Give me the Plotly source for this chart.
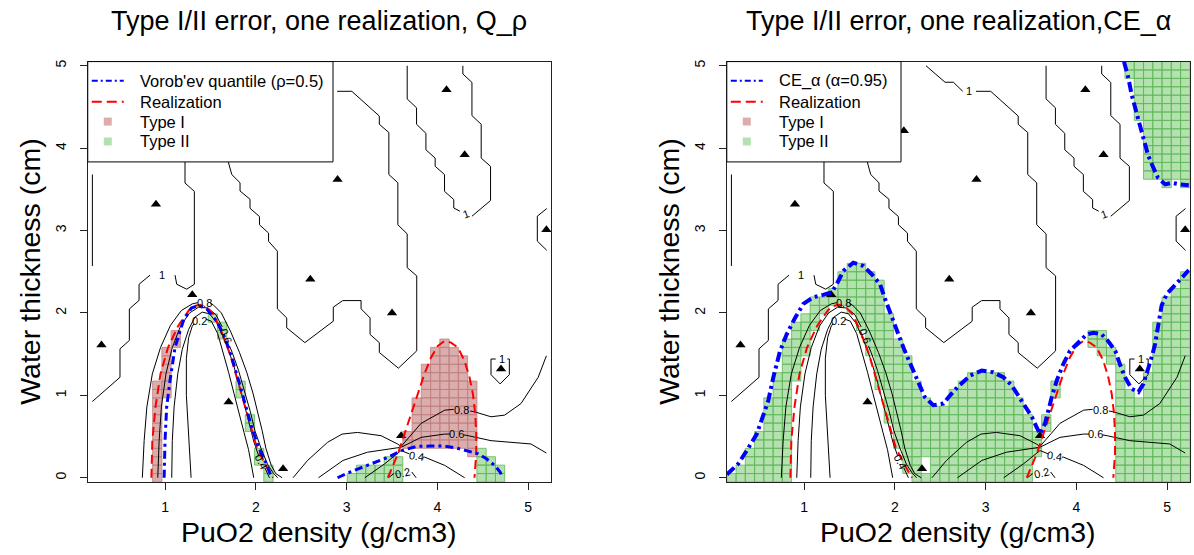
import plotly.graph_objects as go

# ---- computation grid (50 x 50 cells) ----
NX, NY = 50, 50
X0, X1 = 0.2, 5.2
Y0, Y1 = 0.0, 5.0
DX = (X1 - X0) / (NX - 1)
DY = (Y1 - Y0) / (NY - 1)

# ---- design points ----
TRI_X = [0.30, 0.90, 1.30, 1.70, 2.10, 2.30, 2.60, 2.90, 3.50, 3.60, 4.10, 4.30, 4.70, 5.20]
TRI_Y = [1.61, 3.32, 2.22, 0.92, 4.21, 0.11, 2.41, 3.62, 2.00, 0.51, 4.71, 3.92, 1.32, 3.01]

# ---- level-1 contour pieces ----
LEVEL1_SEGMENTS = [
    [(0.20, 2.57), (0.20, 3.68)],
    [(0.199, 0.925), (0.504, 1.219), (0.504, 1.565), (0.607, 1.666), (0.607, 2.049),
     (0.714, 2.152), (0.714, 2.348), (0.835, 2.459)],
    [(1.110, 2.459), (1.129, 2.348), (1.239, 2.288), (1.323, 2.348), (1.323, 3.476),
     (1.22, 3.577), (1.22, 5.0)],
    [(1.70, 5.0), (1.70, 3.82), (1.735, 3.68), (1.826, 3.58), (1.826, 3.48), (1.936, 3.38),
     (1.936, 3.27), (2.04, 3.17), (2.04, 3.07), (2.14, 2.97), (2.14, 2.87), (2.237, 2.75),
     (2.237, 2.05), (2.34, 1.94), (2.34, 1.82), (2.54, 1.64), (2.853, 1.90), (2.853, 2.07),
     (2.957, 2.15), (3.159, 2.15), (3.159, 2.05), (3.258, 1.94), (3.258, 1.74), (3.36, 1.64),
     (3.36, 1.52), (3.57, 1.33), (3.772, 1.54), (3.772, 2.45), (3.667, 2.55), (3.667, 2.96),
     (3.564, 3.07), (3.564, 3.58), (3.465, 3.68), (3.465, 4.19), (3.36, 4.29), (3.36, 4.39),
     (3.057, 4.69), (2.895, 4.69)],
    [(2.749, 4.69), (2.646, 4.80), (2.554, 4.80), (2.344, 5.0)],
    [(3.667, 5.0), (3.667, 4.597), (3.77, 4.49), (3.77, 4.29), (3.873, 4.18), (3.873, 3.98),
     (3.975, 3.88), (3.975, 3.78), (4.078, 3.68), (4.078, 3.476), (4.18, 3.376), (4.18, 3.274),
     (4.247, 3.235)],
    [(4.38, 3.174), (4.585, 3.364), (4.585, 3.779), (4.482, 3.879), (4.482, 4.29), (4.38, 4.395),
     (4.38, 4.798), (4.28, 4.90), (4.28, 5.0)],
    [(5.204, 3.267), (5.10, 3.174), (5.10, 2.872), (5.204, 2.76)],
    [(4.642, 1.441), (4.59, 1.441), (4.59, 1.251), (4.69, 1.139), (4.792, 1.251),
     (4.792, 1.441), (4.77, 1.441)],
]
LEVEL1_LABELS = [(0.97, 2.459, 0), (2.82, 4.69, 0), (4.31, 3.20, -20), (4.715, 1.441, 0)]

# ---- lower contours (0.2 .. 0.8) ----
LOW_SEGMENTS = [
    # 0.8
    [(0.75, 0.0), (0.77, 0.45), (0.80, 0.86), (0.86, 1.26), (0.95, 1.58), (1.06, 1.85),
     (1.18, 2.03), (1.30, 2.11), (1.36, 2.125)],
    [(1.50, 2.115), (1.53, 2.10), (1.62, 2.00), (1.72, 1.78), (1.82, 1.52), (1.90, 1.28),
     (1.97, 1.02), (2.02, 0.80), (2.07, 0.57), (2.11, 0.36), (2.17, 0.15), (2.22, 0.05), (2.29, 0.0)],
    [(2.41, 0.0), (2.57, 0.21), (2.79, 0.43), (2.95, 0.53), (3.12, 0.55), (3.38, 0.51),
     (3.56, 0.41), (3.60, 0.38), (3.82, 0.66), (4.08, 0.82), (4.18, 0.83)],
    [(4.36, 0.81), (4.41, 0.80), (4.59, 0.74), (4.74, 0.76), (4.92, 0.90), (5.11, 1.22), (5.20, 1.48)],
    # 0.6
    [(0.92, 0.0), (0.935, 0.45), (0.96, 0.86), (1.01, 1.26), (1.08, 1.58), (1.17, 1.84),
     (1.27, 2.00), (1.37, 2.07), (1.47, 2.06), (1.56, 1.98), (1.63, 1.83)],
    [(1.71, 1.60), (1.74, 1.52), (1.81, 1.30), (1.88, 1.04), (1.94, 0.80), (1.99, 0.57),
     (2.06, 0.35), (2.13, 0.16), (2.19, 0.06), (2.24, 0.0)],
    [(2.69, 0.0), (2.96, 0.21), (3.23, 0.31), (3.45, 0.35), (3.60, 0.37), (3.82, 0.49),
     (4.08, 0.53), (4.14, 0.53)],
    [(4.29, 0.52), (4.34, 0.51), (4.59, 0.45), (4.81, 0.43), (5.03, 0.41), (5.20, 0.30)],
    # 0.4
    [(1.074, 0.0), (1.08, 0.45), (1.10, 0.86), (1.14, 1.26), (1.19, 1.56), (1.26, 1.80),
     (1.33, 1.95), (1.41, 2.01), (1.49, 1.99), (1.57, 1.88), (1.66, 1.66), (1.74, 1.42),
     (1.81, 1.16), (1.87, 0.90), (1.93, 0.64), (1.98, 0.43), (2.03, 0.27)],
    [(2.10, 0.12), (2.13, 0.05), (2.15, 0.0)],
    [(3.20, 0.0), (3.42, 0.17), (3.60, 0.33), (3.69, 0.29)],
    [(3.84, 0.25), (3.86, 0.25), (4.08, 0.15), (4.30, 0.0)],
    # 0.2
    [(1.287, 0.0), (1.26, 0.5), (1.235, 1.0), (1.235, 1.45), (1.26, 1.70), (1.30, 1.84), (1.32, 1.87)],
    [(1.45, 1.925), (1.51, 1.90), (1.58, 1.75), (1.64, 1.52), (1.70, 1.28), (1.76, 1.02),
     (1.82, 0.78), (1.87, 0.55), (1.92, 0.34), (1.955, 0.15), (1.977, 0.0)],
    [(3.46, 0.0), (3.52, 0.05)],
    [(3.717, 0.07), (3.765, 0.0)],
]
LOW_LABELS = [
    ("0.8", 1.43, 2.12, 0), ("0.6", 1.67, 1.715, 68), ("0.4", 2.065, 0.195, 62), ("0.2", 1.385, 1.90, 0),
    ("0.8", 4.27, 0.82, 0), ("0.6", 4.215, 0.53, 0), ("0.4", 3.765, 0.265, 8), ("0.2", 3.615, 0.06, -12),
]

# ---- realization (excursion set boundary) ----
REAL_ARCH = [(0.85, 0.0), (0.86, 0.45), (0.895, 0.86), (0.95, 1.26), (1.033, 1.58), (1.143, 1.84),
             (1.262, 2.03), (1.31, 2.08), (1.385, 2.10), (1.459, 2.07), (1.53, 1.99), (1.62, 1.78),
             (1.716, 1.50), (1.79, 1.22), (1.862, 0.94), (1.936, 0.66), (2.01, 0.37), (2.10, 0.17),
             (2.19, 0.0)]
REAL_DOME = [(3.454, 0.0), (3.564, 0.29), (3.637, 0.53), (3.71, 0.78), (3.785, 1.02), (3.857, 1.26),
             (3.93, 1.46), (4.005, 1.60), (4.078, 1.66), (4.15, 1.64), (4.225, 1.58), (4.298, 1.42),
             (4.353, 1.22), (4.39, 1.02), (4.416, 0.78), (4.427, 0.53), (4.427, 0.29), (4.408, 0.0)]

# ---- Vorob'ev quantile boundary ----
VOROB_ARCH = [(0.99, 0.0), (1.0, 0.45), (1.018, 0.86), (1.055, 1.18), (1.11, 1.58), (1.20, 1.90),
              (1.29, 2.06), (1.367, 2.09), (1.459, 2.05), (1.57, 1.90), (1.66, 1.70), (1.735, 1.46),
              (1.81, 1.18), (1.88, 0.90), (1.955, 0.61), (2.03, 0.37), (2.10, 0.21), (2.175, 0.0)]
VOROB_LOW = [(2.90, 0.0), (3.04, 0.07), (3.18, 0.13), (3.33, 0.19), (3.46, 0.25), (3.607, 0.33),
             (3.77, 0.38), (3.918, 0.385), (4.065, 0.385), (4.21, 0.36), (4.36, 0.32), (4.45, 0.29),
             (4.54, 0.23), (4.63, 0.15), (4.69, 0.07), (4.72, 0.0)]

# ---- conservative estimate boundary ----
CE_MAIN = [(0.15, 0.04), (0.276, 0.17), (0.369, 0.33), (0.479, 0.53), (0.570, 0.82), (0.607, 0.94),
           (0.662, 1.22), (0.736, 1.54), (0.809, 1.74), (0.901, 1.94), (0.993, 2.11), (1.10, 2.19),
           (1.21, 2.22), (1.305, 2.25), (1.36, 2.35), (1.433, 2.51), (1.543, 2.61), (1.653, 2.57),
           (1.746, 2.47), (1.837, 2.35), (1.893, 2.17), (1.966, 1.94), (2.04, 1.74), (2.11, 1.54),
           (2.19, 1.34), (2.26, 1.14), (2.33, 0.98), (2.425, 0.88), (2.535, 0.90), (2.61, 1.00),
           (2.70, 1.11), (2.83, 1.24), (2.958, 1.30), (3.086, 1.28), (3.196, 1.22), (3.289, 1.12),
           (3.36, 1.00), (3.435, 0.86), (3.51, 0.74), (3.564, 0.61), (3.60, 0.53), (3.656, 0.66),
           (3.69, 0.82), (3.73, 0.98), (3.785, 1.18), (3.857, 1.38), (3.93, 1.54), (4.02, 1.64),
           (4.115, 1.74), (4.19, 1.76), (4.28, 1.74), (4.35, 1.66), (4.43, 1.54), (4.48, 1.38),
           (4.537, 1.22), (4.61, 1.08), (4.684, 1.04), (4.74, 1.14), (4.79, 1.30), (4.83, 1.46),
           (4.868, 1.62), (4.904, 1.86), (4.94, 2.09), (4.997, 2.23), (5.07, 2.31), (5.14, 2.40),
           (5.24, 2.52)]
CE_TOP = [(4.526, 5.05), (4.574, 4.85), (4.61, 4.65), (4.647, 4.48), (4.70, 4.28), (4.74, 4.12),
          (4.79, 3.92), (4.85, 3.76), (4.90, 3.64), (4.98, 3.56), (5.05, 3.58), (5.14, 3.56), (5.24, 3.55)]

# ---- error cells: (column, first row, last row) ----
TYPE1_VOROB = [(7, 0, 11), (8, 10, 15), (9, 16, 17),
               (34, 4, 5), (35, 4, 9), (36, 4, 13), (37, 4, 15), (38, 4, 16), (39, 4, 15),
               (40, 4, 14), (41, 3, 11)]
TYPE2_VOROB = [(13, 19, 19), (14, 17, 18), (16, 10, 11), (17, 6, 7), (18, 2, 3), (19, 0, 1),
               (28, 0, 0), (29, 0, 1), (30, 0, 1), (31, 0, 1), (32, 0, 2), (33, 0, 2),
               (42, 0, 3), (43, 0, 2), (44, 0, 1)]
TYPE1_CE = []
TYPE2_CE = [(0, 0, 0), (1, 0, 1), (2, 0, 3), (3, 0, 5), (4, 0, 9), (5, 0, 12), (6, 0, 16),
            (7, 12, 18), (8, 15, 19), (9, 18, 21), (10, 20, 21), (11, 21, 22), (12, 21, 24),
            (13, 20, 25), (14, 18, 25), (15, 15, 24), (16, 11, 23), (17, 7, 19), (18, 4, 16),
            (19, 1, 14), (20, 0, 11), (21, 0, 0), (21, 3, 9), (22, 0, 8), (23, 0, 8), (24, 0, 10),
            (25, 0, 11), (26, 0, 12), (27, 0, 12), (28, 0, 12), (29, 0, 12), (30, 0, 11),
            (31, 0, 9), (32, 0, 7), (33, 3, 5), (34, 6, 7), (35, 10, 11), (39, 16, 17),
            (40, 15, 17), (41, 14, 15), (42, 0, 13), (43, 0, 10), (44, 0, 9), (45, 0, 12),
            (46, 0, 18), (47, 0, 21), (48, 0, 22), (49, 0, 24),
            (43, 48, 49), (44, 43, 49), (45, 36, 49), (46, 36, 49), (47, 35, 49), (48, 36, 49),
            (49, 35, 49)]

FONT = "Liberation Sans, Arial, Helvetica, sans-serif"
PINK_FILL, PINK_LINE = "#dcadad", "#bf8080"
GREEN_FILL, GREEN_LINE = "#b3e2ae", "#5fb85a"
W, H = 1194, 555

XDOM = [[0.0735, 0.4615], [0.6087, 0.9965]]
YDOM = [0.1321, 0.8923]
XRANGE = [X0 - DX / 2, X1 + DX / 2]
YRANGE = [Y0 - DY / 2, Y1 + DY / 2]
LEGEND_TOP, LEGEND_BOTTOM = 59.8, 160.5
TITLES = ["Type I/II error, one realization, Q_\u03c1", "Type I/II error, one realization,CE_\u03b1"]


def path_xy(segments):
    xs, ys = [], []
    for seg in segments:
        for x, y in seg:
            xs.append(x)
            ys.append(y)
        xs.append(None)
        ys.append(None)
    return xs, ys


def cells_xy(cells):
    xs, ys = [], []
    for col, r0, r1 in cells:
        xc = X0 + col * DX
        for r in range(r0, r1 + 1):
            yc = Y0 + r * DY
            xs += [xc - DX / 2, xc + DX / 2, xc + DX / 2, xc - DX / 2, xc - DX / 2, None]
            ys += [yc - DY / 2, yc - DY / 2, yc + DY / 2, yc + DY / 2, yc - DY / 2, None]
    return xs, ys


def px_x(v):
    return v / W


def px_y(v):
    return 1 - v / H


def under_legend(x, y, xd, right_px):
    # True when a data point lies under the legend box of the panel
    fx = xd[0] + (x - XRANGE[0]) / (XRANGE[1] - XRANGE[0]) * (xd[1] - xd[0])
    fy = YDOM[0] + (y - YRANGE[0]) / (YRANGE[1] - YRANGE[0]) * (YDOM[1] - YDOM[0])
    return fx * W < right_px + 4 and (1 - fy) * H < LEGEND_BOTTOM + 4


PANELS = [
    dict(xa="x", ya="y", est=[VOROB_ARCH, VOROB_LOW],
         est_name="Vorob'ev quantile (\u03c1=0.5)", est_w=3, est_dash="8px,4px,3px,4px",
         t1=TYPE1_VOROB, t2=TYPE2_VOROB, legend_right=333),
    dict(xa="x2", ya="y2", est=[CE_MAIN, CE_TOP],
         est_name="CE_\u03b1 (\u03b1=0.95)", est_w=4, est_dash="10px,4px,3px,4px",
         t1=TYPE1_CE, t2=TYPE2_CE, legend_right=901),
]

fig = go.Figure()
annotations = []
shapes = []

for p, xd in zip(PANELS, XDOM):
    common = dict(xaxis=p["xa"], yaxis=p["ya"], hoverinfo="skip", showlegend=False)
    for cells, fc, lc in [(p["t1"], PINK_FILL, PINK_LINE), (p["t2"], GREEN_FILL, GREEN_LINE)]:
        if cells:
            cx, cy = cells_xy(cells)
            fig.add_trace(go.Scatter(x=cx, y=cy, mode="lines", fill="toself", fillcolor=fc,
                                     line=dict(color=lc, width=0.8), **common))
    lx, ly = path_xy(LEVEL1_SEGMENTS + LOW_SEGMENTS)
    fig.add_trace(go.Scatter(x=lx, y=ly, mode="lines", line=dict(color="black", width=1), **common))
    fig.add_trace(go.Scatter(x=TRI_X, y=TRI_Y, mode="markers",
                             marker=dict(symbol="triangle-up", size=9, color="black"), **common))
    rx, ry = path_xy([REAL_ARCH, REAL_DOME])
    fig.add_trace(go.Scatter(x=rx, y=ry, mode="lines", name="Realization",
                             line=dict(color="red", width=2, dash="9px,5px"), **common))
    bx, by = path_xy(p["est"])
    fig.add_trace(go.Scatter(x=bx, y=by, mode="lines", name=p["est_name"],
                             line=dict(color="blue", width=p["est_w"], dash=p["est_dash"]), **common))

    labels = [("1", x, y, a) for x, y, a in LEVEL1_LABELS] + LOW_LABELS
    for txt, x, y, ang in labels:
        if under_legend(x, y, xd, p["legend_right"]):
            continue
        annotations.append(dict(x=x, y=y, xref=p["xa"], yref=p["ya"], text=txt, showarrow=False,
                                textangle=ang, xanchor="center", yanchor="middle",
                                font=dict(size=11, color="black", family=FONT)))

    # legend box in the upper-left corner of the panel
    left = xd[0] * W
    shapes.append(dict(type="rect", xref="paper", yref="paper", layer="above",
                       x0=px_x(left), x1=px_x(p["legend_right"]),
                       y0=px_y(LEGEND_BOTTOM), y1=px_y(LEGEND_TOP),
                       fillcolor="white", line=dict(color="black", width=1)))
    rows = [79, 100, 120, 140]
    shapes.append(dict(type="line", xref="paper", yref="paper", layer="above",
                       x0=px_x(left + 4), x1=px_x(left + 36), y0=px_y(rows[0]), y1=px_y(rows[0]),
                       line=dict(color="blue", width=2, dash="6px,3px,2px,3px")))
    shapes.append(dict(type="line", xref="paper", yref="paper", layer="above",
                       x0=px_x(left + 4), x1=px_x(left + 36), y0=px_y(rows[1]), y1=px_y(rows[1]),
                       line=dict(color="red", width=2, dash="10px,5px")))
    for r, col in [(rows[2], PINK_FILL), (rows[3], GREEN_FILL)]:
        shapes.append(dict(type="rect", xref="paper", yref="paper", layer="above",
                           x0=px_x(left + 16), x1=px_x(left + 24), y0=px_y(r + 4), y1=px_y(r - 4),
                           fillcolor=col, line=dict(width=0)))
    for r, txt in zip(rows, [p["est_name"], "Realization", "Type I", "Type II"]):
        annotations.append(dict(x=px_x(left + 50), y=px_y(r), xref="paper", yref="paper", text=txt,
                                showarrow=False, xanchor="left", yanchor="middle",
                                font=dict(size=16.5, family=FONT, color="black")))

axis_style = dict(showline=True, linecolor="#222", linewidth=1, mirror=True, ticks="outside",
                  ticklen=7, tickwidth=1, tickcolor="#222", showgrid=False, zeroline=False,
                  tickfont=dict(size=14, color="black", family=FONT))

layout = dict(width=W, height=H, margin=dict(l=0, r=0, t=0, b=0), showlegend=False,
              paper_bgcolor="white", plot_bgcolor="white",
              font=dict(family=FONT, color="black"))

for i, (xd, title) in enumerate(zip(XDOM, TITLES)):
    sx = "" if i == 0 else "2"
    layout["xaxis" + sx] = dict(domain=xd, range=XRANGE, tickvals=[1, 2, 3, 4, 5],
                                anchor="y" + sx, ticklabelstandoff=5, **axis_style)
    layout["yaxis" + sx] = dict(domain=YDOM, range=YRANGE, tickvals=[0, 1, 2, 3, 4, 5],
                                anchor="x" + sx, tickangle=-90, ticklabelstandoff=8, **axis_style)
    cx = (xd[0] + xd[1]) / 2
    annotations.append(dict(x=cx, y=px_y(19), xref="paper", yref="paper", text=title,
                            showarrow=False, xanchor="center", yanchor="middle",
                            font=dict(size=27, family=FONT, color="black")))
    annotations.append(dict(x=cx, y=px_y(532), xref="paper", yref="paper",
                            text="PuO2 density (g/cm3)", showarrow=False,
                            xanchor="center", yanchor="middle",
                            font=dict(size=28.5, family=FONT, color="black")))
    annotations.append(dict(x=px_x(xd[0] * W - 57.7), y=(YDOM[0] + YDOM[1]) / 2,
                            xref="paper", yref="paper", text="Water thickness (cm)", textangle=-90,
                            showarrow=False, xanchor="center", yanchor="middle",
                            font=dict(size=28.5, family=FONT, color="black")))

layout["annotations"] = annotations
layout["shapes"] = shapes
fig.update_layout(**layout)
fig.write_html("out.html")
